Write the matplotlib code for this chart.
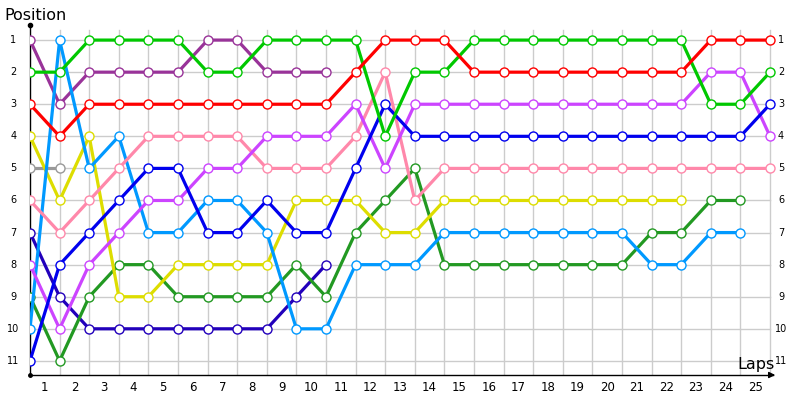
import numpy as np
import matplotlib
matplotlib.use("Agg")
import matplotlib.pyplot as plt

# Lap index 0..25, position per car
laps = list(range(0, 26))
red       = [3, 4, 3, 3, 3, 3, 3, 3, 3, 3, 3, 2, 1, 1, 1, 2, 2, 2, 2, 2, 2, 2, 2, 1, 1, 1]
green     = [2, 2, 1, 1, 1, 1, 2, 2, 1, 1, 1, 1, 4, 2, 2, 1, 1, 1, 1, 1, 1, 1, 1, 3, 3, 2]
purple    = [1, 3, 2, 2, 2, 2, 1, 1, 2, 2, 2]
lightblue = [10, 1, 5, 4, 7, 7, 6, 6, 7, 10, 10, 8, 8, 8, 7, 7, 7, 7, 7, 7, 7, 8, 8, 7, 7]
pink      = [6, 7, 6, 5, 4, 4, 4, 4, 5, 5, 5, 4, 2, 6, 5, 5, 5, 5, 5, 5, 5, 5, 5, 5, 5, 5]
yellow    = [4, 6, 4, 9, 9, 8, 8, 8, 8, 6, 6, 6, 7, 7, 6, 6, 6, 6, 6, 6, 6, 6, 6]
gray      = [5, 5]
blue      = [11, 8, 7, 6, 5, 5, 7, 7, 6, 7, 7, 5, 3, 4, 4, 4, 4, 4, 4, 4, 4, 4, 4, 4, 4, 3]
violet    = [8, 10, 8, 7, 6, 6, 5, 5, 4, 4, 4, 3, 5, 3, 3, 3, 3, 3, 3, 3, 3, 3, 3, 2, 2, 4]
darkgreen = [9, 11, 9, 8, 8, 9, 9, 9, 9, 8, 9, 7, 6, 5, 8, 8, 8, 8, 8, 8, 8, 7, 7, 6, 6]
navy      = [7, 9, 10, 10, 10, 10, 10, 10, 10, 9, 8]

series = [
    (purple, "#993399"),
    (gray, "#999999"),
    (navy, "#2200bb"),
    (darkgreen, "#229922"),
    (yellow, "#dddd00"),
    (lightblue, "#0099ff"),
    (pink, "#ff88aa"),
    (violet, "#cc44ff"),
    (blue, "#0000ee"),
    (green, "#00c800"),
    (red, "#ff0000"),
]

lap_labels = [str(i) for i in range(1, 26)]
pos_labels = [str(i) for i in range(1, 12)]

fig = plt.figure(figsize=(8, 4), dpi=100)
ax = fig.add_axes([30/800, 25/400, 748/800, 350/400])
ax.set_xlim(0, 25.27)
ax.set_ylim(11.44, 0.53)
ax.axis("off")

# grid
for p in range(1, 12):
    ax.plot([0, 25], [p, p], color="#cccccc", lw=1, zorder=1)
for l in range(1, 26):
    ax.plot([l, l], [0.69, 11.44], color="#cccccc", lw=1, zorder=1)

# axes lines
ax.plot([0, 0], [0.53, 11.44], color="black", lw=1, zorder=2, clip_on=False)
ax.plot([0, 25.1], [11.44, 11.44], color="black", lw=1, zorder=2, clip_on=False)
ax.plot([0], [0.53], "o", color="black", ms=3, clip_on=False, zorder=3)
ax.plot([0], [11.44], "o", color="black", ms=2.5, clip_on=False, zorder=3)
ax.annotate("", xy=(25.27, 11.44), xytext=(24.9, 11.44),
            arrowprops=dict(arrowstyle="-|>", color="black", lw=1,
                            mutation_scale=9), annotation_clip=False)

for vals, col in series:
    x = laps[:len(vals)]
    ax.plot(x, vals, color=col, lw=2.3, zorder=4, solid_joinstyle="miter",
            marker="o", ms=6.5, mfc="white", mec=col, mew=1.0)

# tick labels
for i, lab in enumerate(lap_labels):
    ax.text(i + 0.5, 11.44 + 0.38, lab, ha="center", va="center", fontsize=8.5,
            clip_on=False)
for i, lab in enumerate(pos_labels):
    p = i + 1
    ax.text(-16.5/29.6, p, lab, ha="center", va="center", fontsize=7, clip_on=False)
    ax.text(25 + 11/29.6, p, lab, ha="center", va="center", fontsize=7, clip_on=False)

fig.text(4/800, 1 - 15/400, "Position", ha="left", va="center", fontsize=11.5)
fig.text(775/800, 1 - 364/400, "Laps", ha="right", va="center", fontsize=11.5)

fig.savefig("out.png", dpi=100)
